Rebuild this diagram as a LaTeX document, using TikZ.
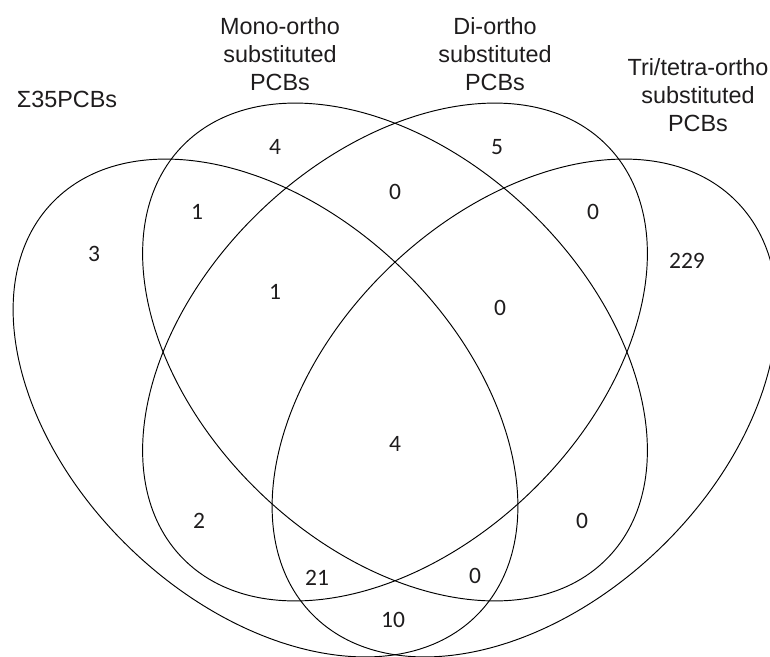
\documentclass[tikz,border=0pt]{standalone}
\usepackage{fontspec}
\setmainfont{Liberation Sans}
\newfontfamily\numfont{Carlito}
\definecolor{txt}{RGB}{30,28,29}
\begin{document}
\begin{tikzpicture}[x=1pt,y=-1pt,
  setline/.style={draw=black,line width=0.95pt},
  setlabel/.style={align=center,text=txt,font=\fontsize{23.4}{28}\selectfont,inner sep=0pt},
  count/.style={text=txt,font=\numfont\fontsize{23.5}{27}\selectfont,inner sep=0pt}]
\useasboundingbox (0,0) rectangle (770,656);
\begin{scope}
\clip (0,0) rectangle (770,656);
% Sigma35 (A)
\draw[setline,rotate around={-44:(265.5,408)}] (265.5,408) ellipse [x radius=296,y radius=195];
% Mono-ortho (B)
\draw[setline,rotate around={-44:(395,352)}] (395,352) ellipse [x radius=296,y radius=195];
% Di-ortho (C)
\draw[setline,rotate around={44:(395,352)}] (395,352) ellipse [x radius=296,y radius=195];
% Tri/tetra (D)
\draw[setline,rotate around={44:(524.5,408)}] (524.5,408) ellipse [x radius=296,y radius=195];
\end{scope}
% labels
\node[setlabel] (lA) at (67,99) {Σ35PCBs};
\node[setlabel] (lB) at (280,54) {Mono-ortho\\substituted\\PCBs};
\node[setlabel] (lC) at (495,54) {Di-ortho\\substituted\\PCBs};
\node[setlabel] (lD) at (698,95) {Tri/tetra-ortho\\substituted\\PCBs};
% counts
\node[count] (nA) at (94,254) {3};
\node[count] (nB) at (275,147) {4};
\node[count] (nAB) at (197,212) {1};
\node[count] (nABC) at (275,292) {1};
\node[count] (nBC) at (395,192) {0};
\node[count] (nC) at (497,147) {5};
\node[count] (nCD) at (593,212) {0};
\node[count] (nD) at (687,261) {229};
\node[count] (nBCD) at (500,308) {0};
\node[count] (nABCD) at (395,444) {4};
\node[count] (nAC) at (199,521) {2};
\node[count] (nACD) at (317,578) {21};
\node[count] (nBD) at (582,521) {0};
\node[count] (nABD) at (475,576) {0};
\node[count] (nAD) at (393,620) {10};
\end{tikzpicture}
\end{document}
